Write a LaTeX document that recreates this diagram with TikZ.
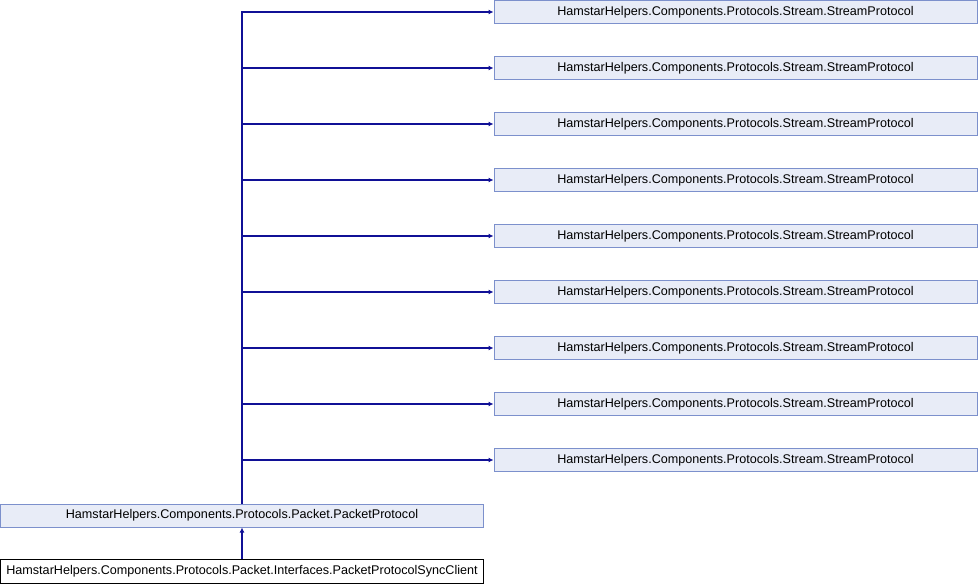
\documentclass[tikz,border=0pt]{standalone}
\usepackage{fontspec}
\setmainfont{Liberation Sans}
\usepackage{xcolor}
\definecolor{dgedge}{RGB}{16,16,150}
\definecolor{dgfill}{RGB}{232,236,247}
\definecolor{dgborder}{RGB}{124,144,204}
\usetikzlibrary{arrows.meta,positioning}

\begin{document}
\begin{tikzpicture}[x=1pt, y=-1pt]
    \tikzstyle{classbox} = [rectangle, draw=dgborder, fill=dgfill, line width=1pt,
                            minimum height=23pt, inner sep=0pt, font=\fontsize{12.6}{14}\selectfont]
    \tikzstyle{focusbox} = [rectangle, draw=black, fill=white, line width=1pt,
                            minimum height=24pt, inner sep=0pt, font=\fontsize{12.6}{14}\selectfont]
    \tikzstyle{inherit} = [-{Latex[length=5pt,width=5pt]}, line width=1.1pt, dgedge]

    \useasboundingbox (0,0) rectangle (978,584);

    % Base classes
    \foreach \i in {1,...,9} {
        \node[classbox, minimum width=483pt] (stream\i) at (735.5,{12+56*(\i-1)})
            {HamstarHelpers.Components.Protocols.Stream.StreamProtocol};
    }

    % Derived classes
    \node[classbox, minimum width=483pt] (packet) at (242,515.5)
        {HamstarHelpers.Components.Protocols.Packet.PacketProtocol};
    \node[focusbox, minimum width=483pt] (client) at (242,571)
        {HamstarHelpers.Components.Protocols.Packet.Interfaces.PacketProtocolSyncClient};

    % Inheritance arrows
    \draw[inherit] (client) -- (packet);
    \foreach \i in {1,...,9} {
        \draw[inherit] (packet.north) |- (stream\i.west);
    }
\end{tikzpicture}
\end{document}
